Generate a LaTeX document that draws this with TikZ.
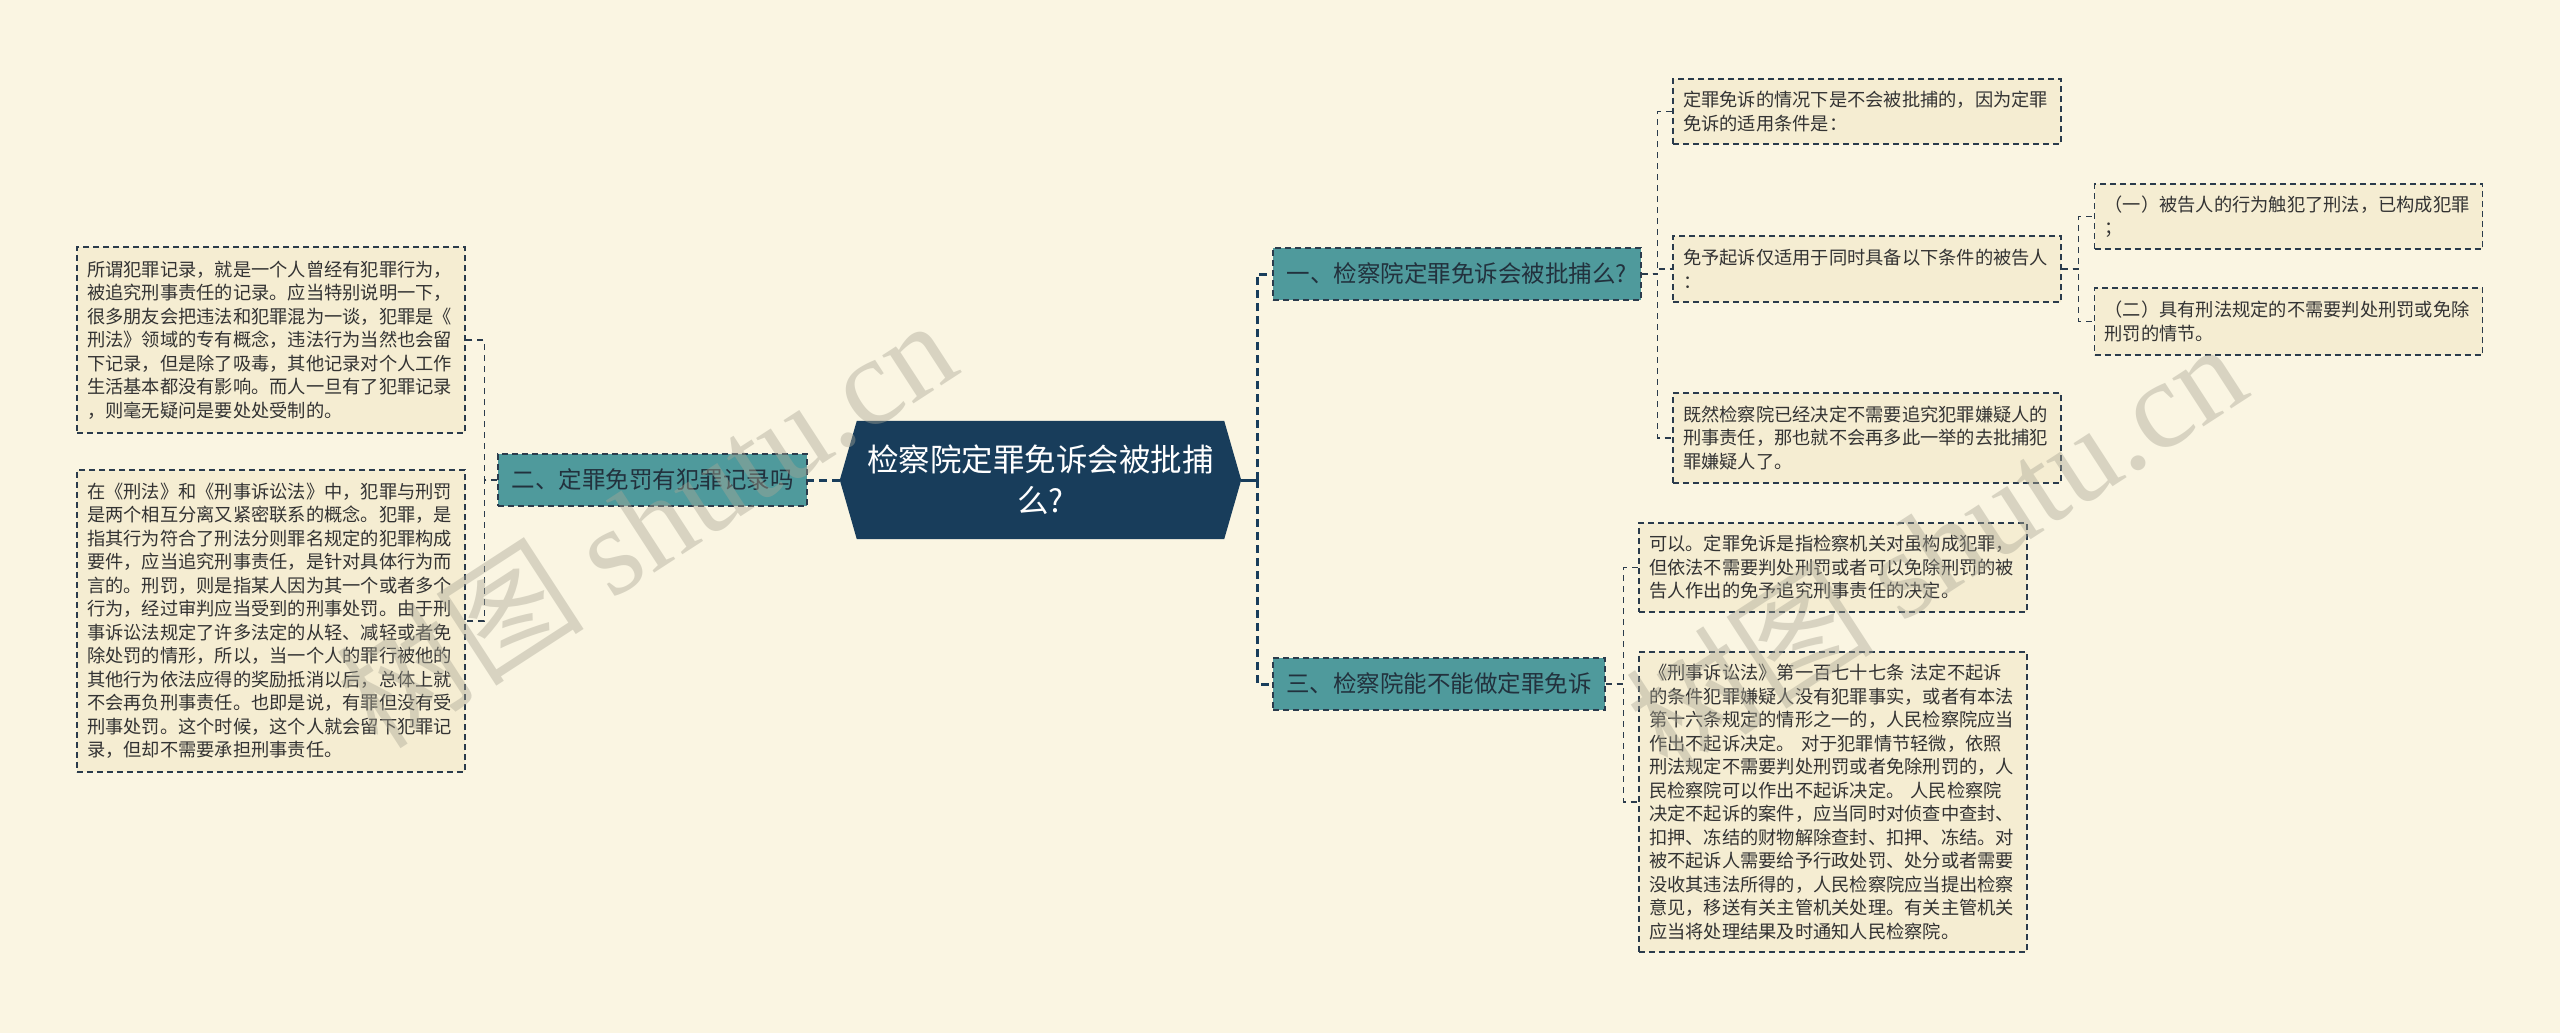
\documentclass[tikz,border=0pt]{standalone}
\usepackage{fontspec}
\setmainfont{Noto Sans CJK SC}
\newfontfamily\wmlatin{Liberation Serif}
\usetikzlibrary{calc}
\definecolor{bgc}{HTML}{FAF5E2}
\definecolor{leaffill}{HTML}{F5EDD2}
\definecolor{navy}{HTML}{183D5B}
\definecolor{tealc}{HTML}{4F9A9C}
\definecolor{linec}{HTML}{2A3B4C}
\definecolor{textc}{HTML}{333333}
\definecolor{btext}{HTML}{22313D}
\definecolor{wmc}{HTML}{A9A695}
\pgfdeclarelayer{back}
\pgfsetlayers{back,main}
\tikzset{
  leaf/.style={draw=linec, line width=1.4pt, dash pattern=on 6pt off 4pt, fill=leaffill, text=textc,
    inner xsep=10pt, inner ysep=0pt, align=left, text width=368pt,
    font=\fontsize{18.25}{23.5}\selectfont},
  branch/.style={draw=linec, line width=1.4pt, dash pattern=on 6pt off 4pt, fill=tealc, text=btext,
    inner sep=0pt, align=center, minimum height=52pt, font=\fontsize{23.5}{28}\selectfont},
  connone/.style={draw=navy, line width=3pt, dash pattern=on 8pt off 5pt},
  conntwo/.style={draw=linec, line width=1.4pt, dash pattern=on 6pt off 5pt},
  wmark/.style={text=wmc, opacity=0.42, rotate=33, font=\fontsize{125}{130}\selectfont, inner sep=0pt},
}
\begin{document}
\begin{tikzpicture}[x=1pt,y=-1pt]
\begin{pgfonlayer}{back}
\fill[bgc] (0,0) rectangle (2560,1033);
\end{pgfonlayer}
\useasboundingbox (0,0) rectangle (2560,1033);

% central node
\node[minimum width=401pt, minimum height=118pt, inner sep=0pt, align=center, text=white,
  font=\fontsize{31.5}{41}\selectfont] (c) at (1040.5,480) {检察院定罪免诉会被批捕\\么?};
\begin{pgfonlayer}{back}
\fill[navy] (c.west) -- ($(c.north west)+(17,0)$) -- ($(c.north east)+(-17,0)$) -- (c.east)
  -- ($(c.south east)+(-17,0)$) -- ($(c.south west)+(17,0)$) -- cycle;
\end{pgfonlayer}

% branches
\node[branch, minimum width=368pt] (b1) at (1457,274) {一、检察院定罪免诉会被批捕么?};
\node[branch, minimum width=309pt] (b2) at (652.5,480) {二、定罪免罚有犯罪记录吗};
\node[branch, minimum width=332pt] (b3) at (1439,684) {三、检察院能不能做定罪免诉};

% leaves left
\node[leaf, minimum height=186pt] (l1) at (271,340) {所谓犯罪记录，就是一个人曾经有犯罪行为，\\被追究刑事责任的记录。应当特别说明一下，\\很多朋友会把违法和犯罪混为一谈，犯罪是《\\刑法》领域的专有概念，违法行为当然也会留\\下记录，但是除了吸毒，其他记录对个人工作\\生活基本都没有影响。而人一旦有了犯罪记录\\，则毫无疑问是要处处受制的。};
\node[leaf, minimum height=302pt] (l2) at (271,621) {在《刑法》和《刑事诉讼法》中，犯罪与刑罚\\是两个相互分离又紧密联系的概念。犯罪，是\\指其行为符合了刑法分则罪名规定的犯罪构成\\要件，应当追究刑事责任，是针对具体行为而\\言的。刑罚，则是指某人因为其一个或者多个\\行为，经过审判应当受到的刑事处罚。由于刑\\事诉讼法规定了许多法定的从轻、减轻或者免\\除处罚的情形，所以，当一个人的罪行被他的\\其他行为依法应得的奖励抵消以后，总体上就\\不会再负刑事责任。也即是说，有罪但没有受\\刑事处罚。这个时候，这个人就会留下犯罪记\\录，但却不需要承担刑事责任。};

% leaves of branch 1
\node[leaf, minimum height=65pt] (r1a) at (1867,111.5) {定罪免诉的情况下是不会被批捕的，因为定罪\\免诉的适用条件是：};
\node[leaf, minimum height=66pt] (r1b) at (1867,269) {免予起诉仅适用于同时具备以下条件的被告人\\：};
\node[leaf, minimum height=90pt] (r1c) at (1867,438) {既然检察院已经决定不需要追究犯罪嫌疑人的\\刑事责任，那也就不会再多此一举的去批捕犯\\罪嫌疑人了。};
\node[leaf, minimum height=65pt] (r2a) at (2288.5,216.5) {（一）被告人的行为触犯了刑法，已构成犯罪\\；};
\node[leaf, minimum height=67pt] (r2b) at (2288.5,321.5) {（二）具有刑法规定的不需要判处刑罚或免除\\刑罚的情节。};

% leaves of branch 3
\node[leaf, minimum height=89pt] (r3a) at (1833,567.5) {可以。定罪免诉是指检察机关对虽构成犯罪，\\但依法不需要判处刑罚或者可以免除刑罚的被\\告人作出的免予追究刑事责任的决定。};
\node[leaf, minimum height=300pt] (r3b) at (1833,802) {《刑事诉讼法》第一百七十七条 法定不起诉\\的条件犯罪嫌疑人没有犯罪事实，或者有本法\\第十六条规定的情形之一的，人民检察院应当\\作出不起诉决定。 对于犯罪情节轻微，依照\\刑法规定不需要判处刑罚或者免除刑罚的，人\\民检察院可以作出不起诉决定。 人民检察院\\决定不起诉的案件，应当同时对侦查中查封、\\扣押、冻结的财物解除查封、扣押、冻结。对\\被不起诉人需要给予行政处罚、处分或者需要\\没收其违法所得的，人民检察院应当提出检察\\意见，移送有关主管机关处理。有关主管机关\\应当将处理结果及时通知人民检察院。};

% connectors level 1
\draw[navy, line width=3pt] (c.east) -- ++(16,0);
\draw[connone] (c.east) ++(16,0) |- (b1.west);
\draw[connone] (c.east) ++(16,0) |- (b3.west);
\draw[connone] (c.west) -- (b2.east);

% connectors level 2
\draw[conntwo] (b1.east) -- ++(16,0) |- (r1a.west);
\draw[conntwo] (b1.east) -- ++(16,0) |- (r1b.west);
\draw[conntwo] (b1.east) -- ++(16,0) |- (r1c.west);
\draw[conntwo] (r1b.east) -- ++(17,0) |- (r2a.west);
\draw[conntwo] (r1b.east) -- ++(17,0) |- (r2b.west);
\draw[conntwo] (b3.east) -- ++(18,0) |- (r3a.west);
\draw[conntwo] (b3.east) -- ++(18,0) |- (r3b.west);
\draw[conntwo] (b2.west) -- ++(-13,0) |- (l1.east);
\draw[conntwo] (b2.west) -- ++(-13,0) |- (l2.east);

% watermarks
\node[wmark] (w1) at (645,522) {树图 {\wmlatin shutu.cn}};
\node[wmark] (w2) at (1935,545) {树图 {\wmlatin shutu.cn}};
\end{tikzpicture}
\end{document}
